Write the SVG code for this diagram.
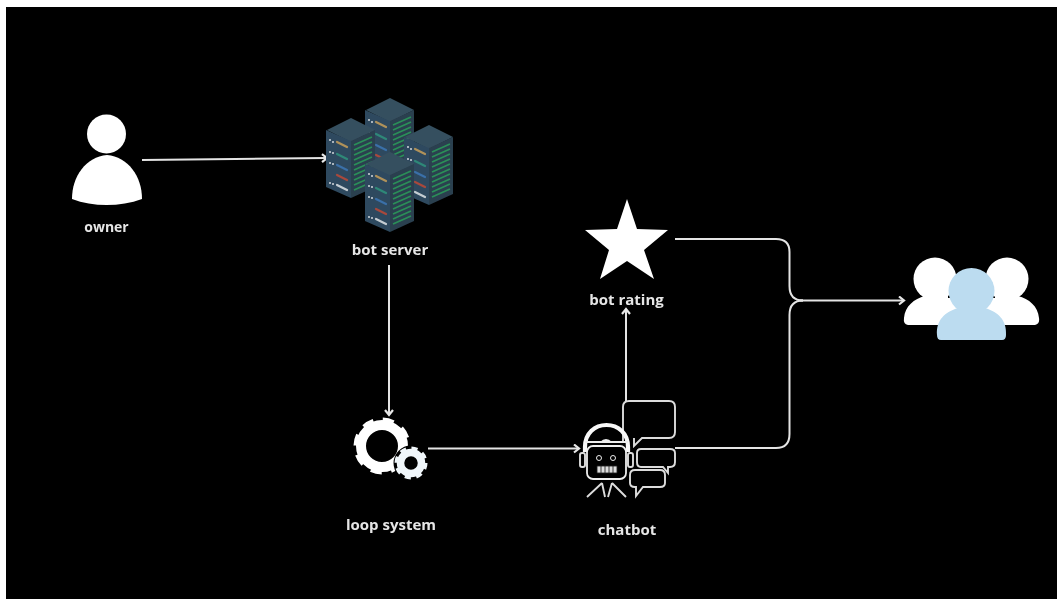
<svg xmlns="http://www.w3.org/2000/svg" width="1057" height="599" viewBox="0 0 1057 599">
<style>
.lbl{font-family:"Open Sans","Liberation Sans",sans-serif;font-size:15px;font-weight:700;fill:#e6e6e6;text-anchor:middle}
.c{fill:none;stroke:#e4e4e4;stroke-width:2;marker-end:url(#a)}
.c2{fill:none;stroke:#e4e4e4;stroke-width:2}
.o{fill:none;stroke:#dcdcdc;stroke-width:1.900}
.body{fill:#2f4a5f}.side{fill:#2a3f4f}.top{fill:#36505f}
.gr{stroke:#2a8f58;stroke-width:1.800}
.led{stroke-width:2.200;stroke-linecap:round}
</style>
<defs>
<filter id="soft" x="0" y="0" width="100%" height="100%"><feGaussianBlur stdDeviation="0.45"/></filter>
<marker id="a" markerUnits="userSpaceOnUse" markerWidth="10" markerHeight="12" refX="8" refY="5" orient="auto"><path d="M3 1L8 5L3 9" fill="none" stroke="#e8e8e8" stroke-width="2.200"/></marker>
<g id="rack">
<path class="top" d="M0 -22L24 -10L0 2L-24 -10Z"/>
<path class="body" d="M-25 -10L0 1V58L-25 47Z"/>
<path class="side" d="M24 -10L0 1V58L24 47Z"/>
<path class="gr" d="M3 5L21 -3M3 10L21 2M3 15L21 7M3 20L21 12M3 25L21 17M3 30L21 22M3 35L21 27M3 40L21 32M3 45L21 37M3 50L21 42"/>
<path class="led" d="M-14 2L-4 7" stroke="#b0925a"/>
<path class="led" d="M-14 14L-4 19" stroke="#2f8878"/>
<path class="led" d="M-14 25L-4 30" stroke="#3a6fa8"/>
<path class="led" d="M-14 35L-4 40" stroke="#a8483c"/>
<path class="led" d="M-14 45L-4 50" stroke="#c4ccd2"/>
<path d="M-21 -1V1M-18 1V3M-21 11V13M-18 12V14M-21 22V24M-18 23V25M-21 42V44M-18 43V45" stroke="#c8ced4" stroke-width="1.600"/>
</g>
</defs>
<rect width="1057" height="599" fill="#fff"/>
<rect x="6" y="7" width="1051" height="592" fill="#000"/>
<g filter="url(#soft)">
<g id="connectors">
<path class="c" d="M142 160L327 158"/>
<path class="c" d="M389 265V415"/>
<path class="c" d="M428 448.500H579"/>
<path class="c" d="M626 401V309"/>
<path class="c2" d="M675 239H776Q789.500 239 789.500 252V286Q789.500 300.500 803 300.500"/>
<path class="c2" d="M675 448H776Q789.500 448 789.500 434V315Q789.500 300.500 803 300.500"/>
<path class="c" d="M800 300.500H904"/>
</g>
<g id="owner">
<circle cx="106.500" cy="134" r="19.500" fill="#fff"/>
<path fill="#fff" d="M72 199C72 176 86 157 107 155C128 157 142 176 142 199C120 207 93 207 72 199Z"/>
<text class="lbl" x="106.500" y="232" style="font-size:14px">owner</text>
</g>
<g id="bot-server">
<use href="#rack" x="390" y="120"/>
<use href="#rack" x="429" y="147"/>
<use href="#rack" x="351" y="140"/>
<use href="#rack" x="390" y="174"/>
<text class="lbl" x="390" y="255">bot server</text>
</g>
<g id="loop-system">
<g fill="none" stroke="#fff">
<circle cx="382" cy="446" r="21" stroke-width="10"/>
<circle cx="382" cy="446" r="26" stroke-width="5" stroke-dasharray="11 9.420"/>
<circle cx="411" cy="463" r="13" stroke-width="9" fill="#000" stroke="#000"/>
<circle cx="411" cy="463" r="10.500" stroke-width="7.500" stroke="#f0f6fa"/>
<circle cx="411" cy="463" r="14.500" stroke-width="4" stroke-dasharray="6 5.390" stroke="#f0f6fa"/>
</g>
<text class="lbl" x="391" y="530">loop system</text>
</g>
<g id="chatbot">
<path class="o" d="M623 441V407Q623 401 629 401H669Q675 401 675 407V432Q675 438 669 438H642L634 446V438"/>
<path class="o" d="M641 449H670Q675 449 675 453V462Q675 467 670 467H668V473L663 467H641Q637 467 637 462V453Q637 449 641 449Z"/>
<path class="o" d="M635 470H660Q665 470 665 475V483Q665 487 660 487H643L636 496V487H635Q630 487 630 483V475Q630 470 635 470Z"/>
<path d="M585 452V447C585 433 595 425 606.500 425C618 425 628 433 628 447V452" fill="none" stroke="#f8f8f8" stroke-width="4.200"/>
<path d="M585 442H628" stroke="#eee" stroke-width="1.800"/>
<path d="M600 442Q606 436 612 442Z" fill="#eee"/>
<rect x="587" y="446" width="39" height="33" rx="6" fill="#000" stroke="#eee" stroke-width="1.800"/>
<circle cx="599" cy="458" r="2.500" fill="none" stroke="#eee"/>
<circle cx="613" cy="458" r="2.500" fill="none" stroke="#eee"/>
<path d="M597 466H617V473H597ZM601 466V473M605 466V473M609 466V473M613 466V473" fill="#ddd" stroke="#111" stroke-width="0.800"/>
<rect x="580" y="453" width="5" height="14" rx="2" class="o"/>
<rect x="628" y="453" width="5" height="14" rx="2" class="o"/>
<path d="M602 483L587 497M602 483L605 497M612 483L608 497M612 483L626 497" class="o"/>
<text class="lbl" x="627" y="535">chatbot</text>
</g>
<g id="bot-rating">
<path fill="#fff" d="M627 199L637 229L668 230L644 250L654 279L627 261L600 279L609 250L585 230L617 229Z"/>
<text class="lbl" x="626.500" y="305">bot rating</text>
</g>
<g id="users">
<g fill="#fff">
<circle cx="935" cy="279" r="21.500"/>
<path d="M908 325Q903 324 904 318C905 306 914 299 925 296H948V325Z"/>
<circle cx="1007" cy="279" r="21.500"/>
<path d="M1035 325Q1040 324 1039 318C1038 306 1029 299 1018 296H995V325Z"/>
<path d="M940 298H1003V326H940Z"/>
</g>
<g fill="#bcdcf0">
<circle cx="971.500" cy="291" r="23"/>
<path d="M941 340Q937 340 937 335C936 320 945 312 958 308H985C998 312 1007 320 1006 335Q1006 340 1002 340Z"/>
</g>
</g>
</g>
</svg>
